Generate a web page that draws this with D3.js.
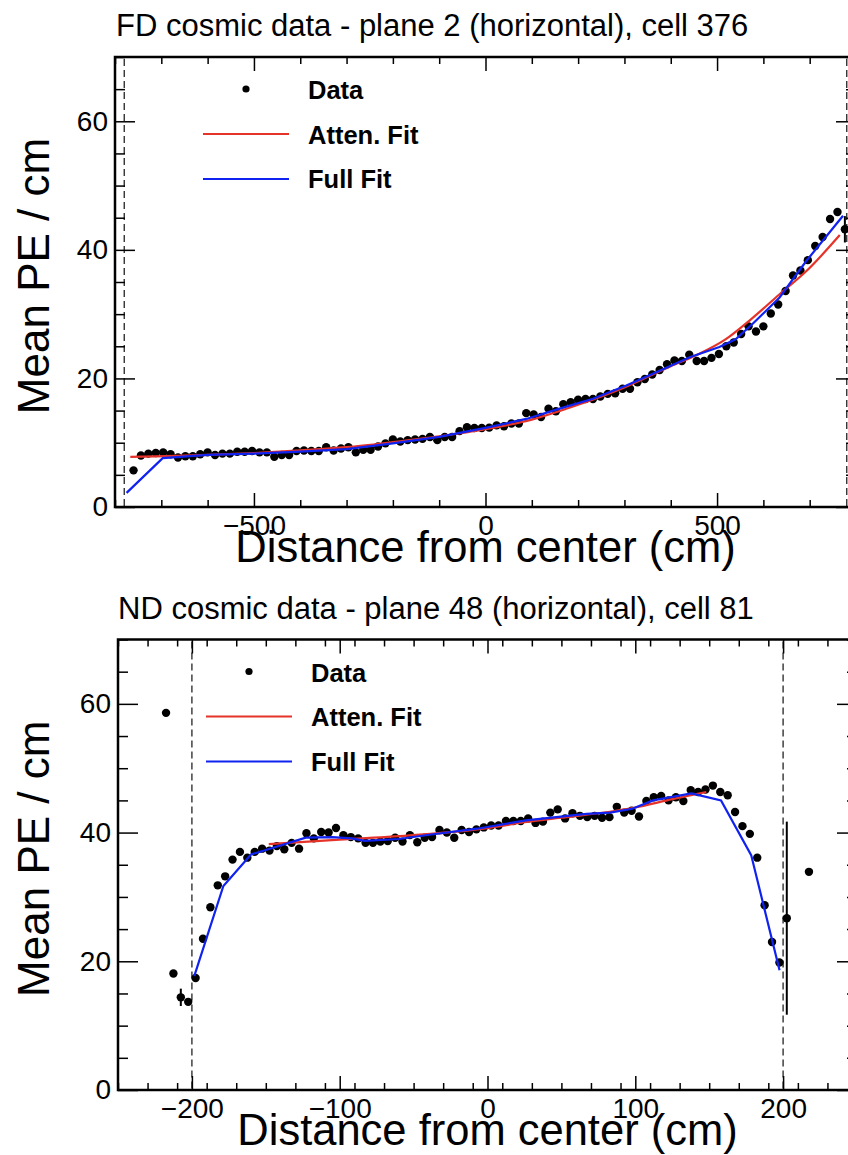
<!DOCTYPE html>
<html>
<head>
<meta charset="utf-8">
<script src="https://cdn.jsdelivr.net/npm/d3@7"></script>
<style>
  body { margin: 0; background: #fff; }
  svg text { font-family: "Liberation Sans", Arial, Helvetica, sans-serif; fill: #000; }
</style>
</head>
<body>
<svg id="chart" width="848" height="1155"></svg>
<script>
// ---------- FD: plane 2, cell 376 ----------
const fdX = [-760,-744,-728,-712,-696,-680,-664,-648,-632,-616,-600,-584,-568,-552,-536,-520,-504,-488,-472,-456,
  -440,-424,-408,-392,-376,-360,-344,-328,-312,-296,-280,-264,-248,-232,-216,-200,-184,-168,-152,-136,
  -120,-104,-88,-72,-56,-40,-24,-8,8,24,40,56,72,88,104,120,136,152,168,184,
  200,216,232,248,264,280,296,312,328,344,360,376,392,408,424,440,456,472,488,504,
  520,536,552,568,584,600,616,632,648,664,680,696,712,728,744,760,776];
const fdY = [5.7,8.0,8.3,8.4,8.5,8.2,7.7,7.9,7.9,8.2,
  8.5,8.1,8.3,8.3,8.6,8.6,8.7,8.5,8.5,7.8,
  8.1,8.1,8.7,8.8,8.7,8.7,9.3,8.8,9.1,9.3,
  8.5,8.9,8.9,9.4,9.9,10.5,10.2,10.4,10.5,10.6,
  10.9,10.4,10.9,10.9,11.8,12.4,12.3,12.3,
  12.35,12.7,12.55,13.0,13.0,14.6,14.4,14.0,15.3,14.9,
  16.0,16.3,16.7,16.8,16.8,17.2,17.6,17.7,18.4,18.4,
  19.4,19.9,20.6,21.3,22.2,22.8,22.7,23.7,22.7,22.7,
  23.2,23.8,25.0,25.6,26.9,28.1,27.3,28.1,30.1,31.5,
  33.6,36.0,36.8,38.4,40.6,42.0,44.8,45.9,43.2];
// points whose error bars extend beyond the marker
const fdErrX = [776];
const fdErrV = [2.05];
const fdAttenX = [-767,-600,-500,-400,-300,-200,-100,0,100,200,300,400,455,519,570,635,693,765];
const fdAttenY = [7.8,8.1,8.4,8.8,9.3,10.1,11.0,12.1,13.6,15.9,18.6,21.9,23.6,26.1,29.0,33.1,36.7,42.3];
const fdFullX = [-775,-697,-600,-500,-400,-300,-200,-100,0,88,160,232,304,376,441,505,540,577,635,693,772];
const fdFullY = [2.2,7.6,8.1,8.3,8.6,9.0,9.9,10.9,12.3,13.7,15.3,16.85,18.9,21.2,23.3,24.9,26.1,28.5,32.6,38.3,45.3];
const fdEdges = [-780, 780];
const fdXTicks = [-500, 0, 500];

// ---------- ND: plane 48, cell 81 ----------
const ndX = [-217.5,-212.5,-207.5,-202.5,-197.5,-192.5,-187.5,-182.5,-177.5,-172.5,
  -167.5,-162.5,-157.5,-152.5,-147.5,-142.5,-137.5,-132.5,-127.5,-122.5,
  -117.5,-112.5,-107.5,-102.5,-97.5,-92.5,-87.5,-82.5,-77.5,-72.5,
  -67.5,-62.5,-57.5,-52.5,-47.5,-42.5,-37.5,-32.5,-27.5,-22.5,
  -17.5,-12.5,-7.5,-2.5,2.5,7.5,12.5,17.5,22.5,27.5,
  32.5,37.5,42.5,47.5,52.5,57.5,62.5,67.5,72.5,77.5,
  82.5,87.5,92.5,97.5,102.5,107.5,112.5,117.5,122.5,127.5,
  132.5,137.5,142.5,147.5,152.5,157.5,162.5,167.5,172.5,177.5,
  182.5,187.5,192.5,197.5,202.5,217.5];
const ndY = [58.6,18.1,14.4,13.7,17.4,23.5,28.4,31.8,33.2,35.8,
  37.0,36.1,37.0,37.5,37.2,37.9,37.4,38.4,37.5,39.9,
  39.1,40.1,40.0,40.7,39.6,39.3,39.1,38.4,38.4,38.6,
  38.7,39.2,38.6,39.6,38.5,39.2,39.3,40.4,40.0,39.2,
  40.4,40.1,40.5,40.8,41.1,41.1,41.8,41.8,41.8,42.2,
  41.5,41.7,43.1,43.6,42.2,43.0,42.6,42.4,42.6,42.3,
  42.4,44.0,43.1,43.4,42.5,44.9,45.5,45.7,45.0,45.5,
  44.9,46.6,46.3,46.7,47.3,46.3,45.8,43.2,41.0,39.8,
  36.1,28.7,23.0,19.8,26.7,33.9];
const ndErrX = [-207.5, 202.5];
const ndErrV = [1.35, 15.0];
const ndAttenX = [-148,-100,-50,0,25,50,75,100,125,148];
const ndAttenY = [38.2,38.9,39.6,40.7,41.6,42.3,43.0,43.9,45.2,46.3];
const ndFullX = [-198.4,-178.7,-160,-150,-123,-105,-92,-83,-60,-38,-7,26,67,83,98,112,138,158,178.4,197.6];
const ndFullY = [17.7,31.7,36.6,37.3,39.2,39.3,39.1,38.7,39.0,39.7,40.6,41.9,42.9,43.1,43.7,45.0,46.1,45.0,36.5,18.6];
const ndEdges = [-200, 200];
const ndXTicks = [-200, -100, 0, 100, 200];

const yTicks = [0, 20, 40, 60];
const legendLabels = ["Data", "Atten. Fit", "Full Fit"];
const RED = "#e5332a", BLUE = "#1022f0";

const svg = d3.select("#chart");

function drawPanel(p) {
  const g = svg.append("g");
  const x = d3.scaleLinear().domain(p.xDomain).range([p.left, p.right]);
  const y = d3.scaleLinear().domain([0, 70]).range([p.bottom, p.top]);

  // title
  g.append("text").attr("x", p.titleX).attr("y", p.top - 21)
    .attr("font-size", 31).text(p.title);

  // fiducial edges
  g.selectAll("line.edge").data(p.edges).join("line").attr("class", "edge")
    .attr("x1", d => x(d)).attr("x2", d => x(d))
    .attr("y1", p.top + 2).attr("y2", p.bottom)
    .attr("stroke", "#333").attr("stroke-width", 1.4).attr("stroke-dasharray", "7,4");

  // axes: major + minor ticks, all pointing inward
  const minorX = d3.range(p.xDomain[0], p.xDomain[1] + 1e-6, p.xMinor).filter(v => !p.xTicks.includes(v));
  const minorY = d3.range(0, 70 + 1e-6, 5).filter(v => !yTicks.includes(v));
  const style = sel => {
    sel.select(".domain").remove();
    sel.selectAll(".tick line").attr("stroke", "#000").attr("stroke-width", 1.5);
    sel.selectAll(".tick text").attr("font-size", 28).attr("font-family", "Liberation Sans, Arial, sans-serif").attr("fill", "#000");
  };
  g.append("g").attr("transform", `translate(0,${p.bottom})`)
    .call(d3.axisBottom(x).tickValues(p.xTicks).tickSize(-14).tickPadding(8)).call(style);
  g.append("g").attr("transform", `translate(0,${p.bottom})`)
    .call(d3.axisBottom(x).tickValues(minorX).tickFormat("").tickSize(-7)).call(style);
  g.append("g").attr("transform", `translate(0,${p.top})`)
    .call(d3.axisTop(x).tickValues(p.xTicks).tickFormat("").tickSize(-14)).call(style);
  g.append("g").attr("transform", `translate(0,${p.top})`)
    .call(d3.axisTop(x).tickValues(minorX).tickFormat("").tickSize(-7)).call(style);
  g.append("g").attr("transform", `translate(${p.left},0)`)
    .call(d3.axisLeft(y).tickValues(yTicks).tickFormat(d3.format("d")).tickSize(-20).tickPadding(7)).call(style);
  g.append("g").attr("transform", `translate(${p.left},0)`)
    .call(d3.axisLeft(y).tickValues(minorY).tickFormat("").tickSize(-10)).call(style);
  g.append("g").attr("transform", `translate(${p.right},0)`)
    .call(d3.axisRight(y).tickValues(yTicks).tickFormat("").tickSize(-20)).call(style);
  g.append("g").attr("transform", `translate(${p.right},0)`)
    .call(d3.axisRight(y).tickValues(minorY).tickFormat("").tickSize(-10)).call(style);

  // frame
  g.append("rect").attr("x", p.left).attr("y", p.top)
    .attr("width", p.right - p.left).attr("height", p.bottom - p.top)
    .attr("fill", "none").attr("stroke", "#000").attr("stroke-width", 2.5);

  // axis titles
  g.append("text").attr("x", (p.left + p.right) / 2).attr("y", p.bottom + 55)
    .attr("text-anchor", "middle").attr("font-size", 43.5).text("Distance from center (cm)");
  g.append("text")
    .attr("transform", `translate(49,${(p.top + p.bottom) / 2 - 6}) rotate(-90)`)
    .attr("text-anchor", "middle").attr("font-size", 44).text("Mean PE / cm");

  // data points with error bars
  const pts = p.xs.map((v, i) => ({ x: v, y: p.ys[i] }));
  g.selectAll("line.err").data(p.errX.map((v, i) => ({ x: v, e: p.errV[i], y: p.ys[p.xs.indexOf(v)] })))
    .join("line").attr("class", "err")
    .attr("x1", d => x(d.x)).attr("x2", d => x(d.x))
    .attr("y1", d => y(d.y - d.e)).attr("y2", d => y(d.y + d.e))
    .attr("stroke", "#000").attr("stroke-width", 2);
  g.selectAll("circle.pt").data(pts).join("circle").attr("class", "pt")
    .attr("cx", d => x(d.x)).attr("cy", d => y(d.y)).attr("r", 4.2).attr("fill", "#000");

  // fit curves
  const atten = d3.line().x(d => x(d[0])).y(d => y(d[1])).curve(d3.curveMonotoneX);
  const full = d3.line().x(d => x(d[0])).y(d => y(d[1]));
  g.append("path").attr("d", atten(p.attenX.map((v, i) => [v, p.attenY[i]])))
    .attr("fill", "none").attr("stroke", RED).attr("stroke-width", 2.2);
  g.append("path").attr("d", full(p.fullX.map((v, i) => [v, p.fullY[i]])))
    .attr("fill", "none").attr("stroke", BLUE).attr("stroke-width", 2.2);

  // legend
  const lx = p.left, ly = p.top;
  g.append("circle").attr("cx", lx + 131).attr("cy", ly + 32).attr("r", 3.6).attr("fill", "#000");
  g.append("line").attr("x1", lx + 88).attr("x2", lx + 174).attr("y1", ly + 77).attr("y2", ly + 77)
    .attr("stroke", RED).attr("stroke-width", 2.2);
  g.append("line").attr("x1", lx + 88).attr("x2", lx + 174).attr("y1", ly + 122).attr("y2", ly + 122)
    .attr("stroke", BLUE).attr("stroke-width", 2.2);
  legendLabels.forEach((t, i) => {
    g.append("text").attr("x", lx + 193).attr("y", ly + 42 + 44.5 * i)
      .attr("font-size", 25.5).attr("font-weight", "bold").text(t);
  });
}

drawPanel({
  title: "FD cosmic data - plane 2 (horizontal), cell 376", titleX: 116,
  left: 115, right: 856, top: 57, bottom: 507,
  xDomain: [-800, 800], xTicks: fdXTicks, xMinor: 100, edges: fdEdges,
  xs: fdX, ys: fdY, errX: fdErrX, errV: fdErrV,
  attenX: fdAttenX, attenY: fdAttenY, fullX: fdFullX, fullY: fdFullY
});

drawPanel({
  title: "ND cosmic data - plane 48 (horizontal), cell 81", titleX: 118,
  left: 118, right: 857, top: 639.5, bottom: 1090,
  xDomain: [-250, 250], xTicks: ndXTicks, xMinor: 20, edges: ndEdges,
  xs: ndX, ys: ndY, errX: ndErrX, errV: ndErrV,
  attenX: ndAttenX, attenY: ndAttenY, fullX: ndFullX, fullY: ndFullY
});
</script>
</body>
</html>
